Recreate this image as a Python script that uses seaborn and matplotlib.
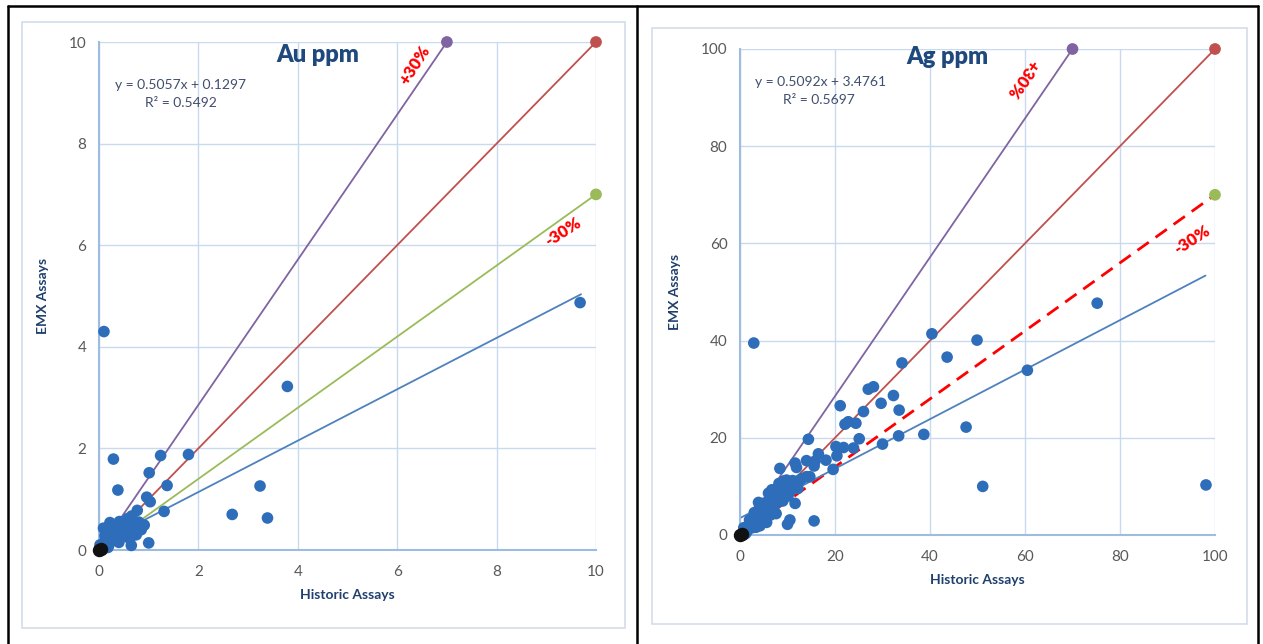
import numpy as np
import pandas as pd
import matplotlib
matplotlib.use('Agg')
import matplotlib.pyplot as plt
from matplotlib.patches import Rectangle
from matplotlib.lines import Line2D
import seaborn as sns

sns.set_style('white')
plt.rcParams['font.family'] = ['Lato', 'DejaVu Sans']

# Au ppm  (historic vs EMX)
au_hist = [0.1, 9.68, 3.79, 0.29, 1.24, 1.80, 1.01, 0.38, 1.37, 3.24, 2.68, 3.39,
           1.31, 0.96, 1.03, 0.77, 0.91, 1.0, 0.65, 0.09, 0.22, 0.41, 0.66, 0.52,
           0.72, 0.29, 0.46, 0.15, 0.02, 0.05, 0.1, 0.2, 0.3, 0.35, 0.45, 0.55,
           0.6, 0.7, 0.8, 0.85, 0.62, 0.5, 0.4, 0.25, 0.12, 0.33, 0.75, 0.58,
           0.68, 0.18, 0.08]
au_emx = [4.3, 4.87, 3.22, 1.79, 1.86, 1.88, 1.52, 1.18, 1.27, 1.26, 0.70, 0.63,
          0.76, 1.04, 0.95, 0.78, 0.49, 0.14, 0.09, 0.43, 0.54, 0.56, 0.67, 0.46,
          0.36, 0.30, 0.26, 0.20, 0.10, 0.05, 0.15, 0.1, 0.2, 0.35, 0.4, 0.3,
          0.5, 0.45, 0.55, 0.4, 0.22, 0.55, 0.15, 0.38, 0.28, 0.48, 0.3, 0.62,
          0.58, 0.05, 0.02]

# Ag ppm
ag_hist = [2.9, 40.4, 43.6, 34.1, 75.2, 49.9, 60.5, 47.6, 51.1, 98.1, 14.4, 21.1,
           27.0, 28.1, 32.3, 29.7, 33.5, 26.0, 22.1, 22.8, 24.4, 25.1, 33.4, 38.7,
           30.0, 20.2, 21.8, 23.9, 20.4, 16.5, 18.1, 15.8, 14.0, 11.6, 11.9, 8.4,
           19.6, 15.6, 10.5, 10.0, 15.6, 11.6, 3.9, 4.2, 14.0, 14.7, 12.6, 9.8, 6.7,
           0.5, 1.0, 1.5, 2.1, 2.6, 3.1, 3.6, 4.2, 4.6, 5.1, 5.4, 6.1, 6.6, 7.2,
           7.5, 8.1, 8.6, 9.1, 9.4, 10.2, 10.6, 11.1, 11.4, 12.1, 13.0, 6.0, 7.1,
           5.2, 8.2, 9.2, 4.1, 3.0, 2.0, 6.4, 7.6, 9.0, 10.1, 12.2, 5.6, 3.4, 1.2, 0.8]
ag_emx = [39.5, 41.4, 36.6, 35.4, 47.7, 40.1, 33.9, 22.2, 10.0, 10.3, 19.7, 26.6,
          30.0, 30.5, 28.7, 27.1, 25.7, 25.4, 22.8, 23.3, 23.0, 19.8, 20.4, 20.7,
          18.7, 18.2, 18.0, 17.9, 16.3, 16.7, 15.4, 15.2, 15.3, 14.8, 13.9, 13.7,
          13.5, 14.2, 3.1, 2.2, 2.9, 6.5, 6.7, 1.9, 12.0, 12.0, 11.3, 11.3, 9.3,
          0.3, 1.1, 0.8, 2.2, 1.5, 3.2, 2.5, 4.1, 3.4, 5.2, 4.4, 6.1, 5.0, 7.2,
          6.4, 8.1, 7.1, 9.2, 8.4, 10.1, 9.0, 11.2, 10.1, 11.0, 11.6, 8.6, 9.1,
          6.6, 10.6, 11.1, 5.6, 4.6, 3.1, 4.1, 4.4, 7.0, 8.0, 9.6, 2.6, 1.6, 0.3, 1.5]

panels = [
    dict(name='Au ppm', hist=au_hist, emx=au_emx, lim=10, slope=0.5057, icpt=0.1297,
         r2=0.5492, trend_end=9.7, rect=[99/1263, 1-550/644, 497/1263, 508/644],
         eq_xy=(0.32, 9.15), r2_xy=(0.93, 8.8), title_xy=(4.4, 9.74),
         plus_xy=(6.36, 9.55), plus_rot=57, minus_xy=(9.34, 6.26), minus_rot=33,
         dashed=False, box=(22, 22, 625, 628)),
    dict(name='Ag ppm', hist=ag_hist, emx=ag_emx, lim=100, slope=0.5092, icpt=3.4761,
         r2=0.5697, trend_end=98, rect=[740/1263, 1-535/644, 475/1263, 486/644],
         eq_xy=(3.2, 93.2), r2_xy=(9.0, 89.5), title_xy=(43.6, 98.4),
         plus_xy=(59.4, 94.0), plus_rot=235, minus_xy=(95.2, 60.7), minus_rot=33,
         dashed=True, box=(652, 28, 1247, 624)),
]

fig = plt.figure(figsize=(12.63, 6.44), dpi=100)
W, H = 1263, 644

for p in panels:
    x0, y0, x1, y1 = p['box']
    fig.add_artist(Rectangle((x0/W, 1-y1/H), (x1-x0)/W, (y1-y0)/H, transform=fig.transFigure,
                             fill=False, edgecolor='#D3DDEB', lw=1.2))
    ax = fig.add_axes(p['rect'])
    L = p['lim']
    df = pd.DataFrame({'hist': p['hist'], 'emx': p['emx']})

    # reference lines
    ax.plot([0, 0.7*L], [0, L], color='#8064A2', lw=1.3, zorder=2)
    ax.plot([0, L], [0, L], color='#C0504D', lw=1.3, zorder=2)
    if p['dashed']:
        ax.plot([0, L], [0, 0.7*L], color='#FF0000', lw=2, ls=(0, (5, 3)), zorder=2)
    else:
        ax.plot([0, L], [0, 0.7*L], color='#9BBB59', lw=1.3, zorder=2)
    ax.scatter([0.7*L, L, L], [L, L, 0.7*L], s=55, color=['#8064A2', '#C0504D', '#9BBB59'],
               zorder=4, clip_on=False)
    xt = np.array([0, p['trend_end']])
    ax.plot(xt, p['slope']*xt + p['icpt'], color='#4F81BD', lw=1.3, zorder=2)

    sns.scatterplot(data=df, x='hist', y='emx', ax=ax, s=70, color='#2E6DB9',
                    edgecolor='none', zorder=3, clip_on=False)
    ax.scatter([0, 0.004*L], [0, 0.002*L], s=75, color='#111111', zorder=3, clip_on=False)

    ax.set_xlim(0, L)
    ax.set_ylim(0, L)
    ax.set_xticks(np.linspace(0, L, 6))
    ax.set_yticks(np.linspace(0, L, 6))
    ax.grid(True, color='#C9D9EE', lw=1)
    for s in ['top', 'right']:
        ax.spines[s].set_visible(False)
    for s in ['left', 'bottom']:
        ax.spines[s].set_color('#9EBBE0')
        ax.spines[s].set_linewidth(1.5)
    ax.tick_params(length=0, labelsize=11, labelcolor='#595959')
    ax.tick_params(axis='x', pad=11)
    ax.tick_params(axis='y', pad=9)
    ax.set_xlabel('Historic Assays', fontsize=10, fontweight='bold', color='#1F3F6E', labelpad=7)
    ax.set_ylabel('EMX Assays', fontsize=10, fontweight='bold', color='#1F3F6E', labelpad=14)

    ax.text(*p['title_xy'], p['name'], fontsize=17, fontweight='heavy', color='#1F497D',
            ha='center', va='center')
    ax.text(*p['eq_xy'], 'y = %.4fx + %.4f' % (p['slope'], p['icpt']), fontsize=10,
            color='#404E6E', ha='left', va='center')
    ax.text(*p['r2_xy'], 'R² = %.4f' % p['r2'], fontsize=10, color='#404E6E',
            ha='left', va='center')
    ax.text(*p['plus_xy'], '+30%', fontsize=12, fontweight='heavy', color='#FF0000',
            rotation=p['plus_rot'], ha='center', va='center', rotation_mode='anchor')
    ax.text(*p['minus_xy'], '-30%', fontsize=12, fontweight='heavy', color='#FF0000',
            rotation=p['minus_rot'], ha='center', va='center', rotation_mode='anchor')

# table frame
for xl in [8, 637, 1258]:
    fig.add_artist(Line2D([xl/W, xl/W], [0, 1-6/H], color='black', lw=1.8))
fig.add_artist(Line2D([8/W, 1258/W], [1-6/H, 1-6/H], color='black', lw=1.8))

fig.savefig('out.png', dpi=100)
